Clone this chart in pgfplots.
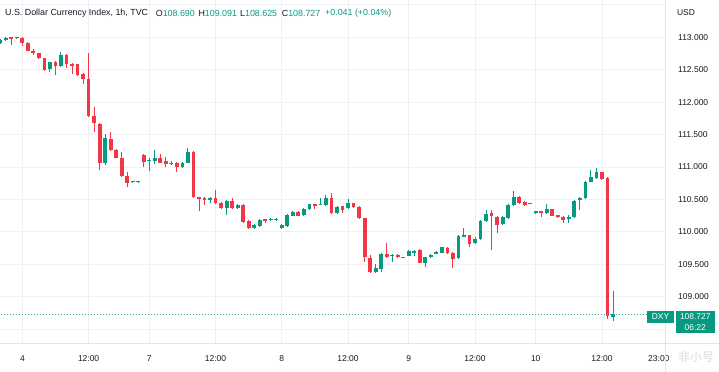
\documentclass[border=0pt]{standalone}
\usepackage{pgfplots}
\pgfplotsset{compat=1.18}
\usepackage{pgfplotstable}
\usepackage{fontspec}
\setmainfont{Liberation Sans}
\newfontfamily\cjk{Noto Sans CJK SC}
\definecolor{up}{HTML}{089981}
\definecolor{dn}{HTML}{F23645}
\definecolor{gridc}{HTML}{EEF1F6}
\definecolor{txt}{HTML}{131722}
\definecolor{axl}{HTML}{E0E3EB}

\pgfplotstableread{
x o h l c
0 112.917 112.974 112.897 112.958
1 112.958 112.997 112.943 112.984
3 112.984 113.000 112.978 112.994
9 112.506 112.619 112.469 112.614
11 112.557 112.778 112.542 112.727
19 111.066 111.509 111.031 111.442
24 110.761 110.784 110.753 110.776
25 110.764 110.784 110.753 110.776
27 111.088 111.134 110.943 111.103
28 111.097 111.262 111.046 111.134
33 111.005 111.077 110.992 111.066
34 111.066 111.288 111.054 111.236
38 110.491 110.542 110.440 110.517
41 110.363 110.491 110.260 110.476
43 110.363 110.429 110.352 110.414
46 110.064 110.121 110.051 110.105
47 110.090 110.198 110.075 110.183
49 110.178 110.214 110.167 110.198
50 110.183 110.206 110.167 110.193
51 110.055 110.121 110.044 110.105
52 110.090 110.275 110.075 110.260
53 110.244 110.321 110.237 110.311
55 110.260 110.360 110.252 110.348
56 110.348 110.437 110.337 110.425
58 110.417 110.517 110.414 110.429
59 110.414 110.568 110.406 110.517
61 110.286 110.398 110.275 110.388
63 110.363 110.502 110.352 110.440
68 109.385 109.504 109.373 109.438
69 109.422 109.674 109.381 109.658
71 109.627 109.651 109.540 109.643
74 109.627 109.720 109.620 109.709
75 109.678 109.720 109.627 109.709
77 109.515 109.617 109.453 109.607
78 109.607 109.651 109.597 109.643
79 109.658 109.705 109.651 109.694
80 109.678 109.774 109.669 109.762
83 109.592 109.951 109.581 109.936
84 109.925 110.055 109.913 109.951
86 109.833 109.920 109.820 109.890
87 109.885 110.183 109.874 110.172
88 110.172 110.337 110.159 110.275
91 110.121 110.237 110.105 110.224
92 110.209 110.429 110.198 110.414
93 110.414 110.634 110.398 110.533
96 110.434 110.452 110.429 110.445
97 110.286 110.329 110.275 110.321
99 110.286 110.425 110.275 110.348
103 110.193 110.267 110.132 110.224
104 110.224 110.491 110.213 110.480
105 110.491 110.545 110.337 110.517
106 110.517 110.784 110.506 110.773
107 110.773 110.954 110.761 110.850
108 110.826 110.980 110.815 110.918
111 108.690 109.091 108.625 108.727
}\upT

\pgfplotstableread{
x o h l c
2 112.994 113.004 112.881 112.981
4 112.984 112.997 112.866 112.917
5 112.917 112.927 112.789 112.793
6 112.793 112.815 112.727 112.753
7 112.753 112.758 112.665 112.676
8 112.676 112.681 112.480 112.496
10 112.614 112.627 112.419 112.557
12 112.727 112.735 112.522 112.584
13 112.588 112.596 112.434 112.557
14 112.584 112.588 112.403 112.419
15 112.429 112.442 112.280 112.352
16 112.352 112.762 111.771 111.786
17 111.786 111.930 111.544 111.674
18 111.658 111.671 110.954 111.066
20 111.432 111.540 111.247 111.262
21 111.262 111.277 111.131 111.143
22 111.143 111.236 110.853 110.866
23 110.866 110.927 110.696 110.758
26 111.185 111.193 111.005 111.082
29 111.134 111.200 111.054 111.066
30 111.092 111.159 111.005 111.041
31 111.066 111.097 111.031 111.046
32 111.066 111.077 110.927 111.005
35 111.236 111.254 110.522 110.533
36 110.533 110.542 110.326 110.502
37 110.517 110.530 110.414 110.491
39 110.517 110.645 110.437 110.449
40 110.449 110.460 110.352 110.363
42 110.476 110.517 110.352 110.363
44 110.414 110.422 110.144 110.156
45 110.172 110.190 110.051 110.064
48 110.193 110.203 110.132 110.172
54 110.311 110.321 110.237 110.244
57 110.429 110.437 110.348 110.398
60 110.517 110.594 110.275 110.286
62 110.398 110.406 110.286 110.337
64 110.440 110.452 110.368 110.378
65 110.378 110.391 110.198 110.209
66 110.209 110.221 109.540 109.607
67 109.592 109.643 109.373 109.385
70 109.658 109.823 109.597 109.607
72 109.643 109.651 109.597 109.607
73 109.607 109.612 109.589 109.597
76 109.720 109.728 109.515 109.524
81 109.755 109.766 109.658 109.669
82 109.678 109.689 109.438 109.577
85 109.951 109.959 109.766 109.813
89 110.286 110.337 109.720 110.244
90 110.233 110.244 109.987 110.105
94 110.542 110.553 110.437 110.449
95 110.465 110.476 110.406 110.414
98 110.321 110.329 110.224 110.286
100 110.348 110.357 110.240 110.249
101 110.260 110.267 110.213 110.224
102 110.233 110.244 110.141 110.183
109 110.918 110.930 110.799 110.815
110 110.826 110.838 108.660 108.695
}\dnT

\begin{document}
\begin{tikzpicture}[font=\fontsize{8.5}{10}\selectfont]
\useasboundingbox (0,-29bp) rectangle (719bp,343bp);
\begin{axis}[
  at={(0,0)}, anchor=south west,
  scale only axis, width=665bp, height=343bp,
  xmin=-0.05, xmax=120.42, ymin=108.286, ymax=113.575,
  axis line style={draw=none},
  major tick length=0, tick style={draw=none},
  xtick={4,16,27,39,51,63,74,86,97,109},
  xticklabels={4,12:00,7,12:00,8,12:00,9,12:00,10,12:00},
  extra x ticks={119.3}, extra x tick labels={23:00},
  extra x tick style={grid=none},
  ytick={109,109.5,...,113},
  extra y ticks={108.5,113.5}, extra y tick labels={},
  xmajorgrids, ymajorgrids,
  grid style={draw=gridc, line width=0.8bp},
  yticklabel pos=right,
  /pgf/number format/assume math mode=true,
  yticklabel style={/pgf/number format/.cd, fixed, fixed zerofill, precision=3, 1000 sep={}, /tikz/.cd, anchor=west, inner sep=0pt, xshift=13bp, text=txt},
  xticklabel style={anchor=base, inner sep=0pt, yshift=-18bp, text=txt},
  clip=true,
]
% wicks
\addplot[forget plot, mark=none, draw=none, error bars/.cd, y dir=plus, y explicit, error mark=none,
  error bar style={draw=up, line width=1bp}]
  table[x=x, y=l, y error expr=\thisrow{h}-\thisrow{l}] {\upT};
\addplot[forget plot, mark=none, draw=none, error bars/.cd, y dir=plus, y explicit, error mark=none,
  error bar style={draw=dn, line width=1bp}]
  table[x=x, y=l, y error expr=\thisrow{h}-\thisrow{l}] {\dnT};
% bodies
\addplot[forget plot, mark=none, draw=none, error bars/.cd, y dir=plus, y explicit, error mark=none,
  error bar style={draw=up, line width=3.8bp}]
  table[x=x, y=o, y error expr={max(\thisrow{c}-\thisrow{o},0.016)}] {\upT};
\addplot[forget plot, mark=none, draw=none, error bars/.cd, y dir=plus, y explicit, error mark=none,
  error bar style={draw=dn, line width=3.8bp}]
  table[x=x, y=c, y error expr={max(\thisrow{o}-\thisrow{c},0.016)}] {\dnT};
% last price line
\addplot[forget plot, mark=none, draw=up!80, line width=0.7bp, dash pattern=on 1bp off 2bp]
  coordinates {(-1,108.727) (125,108.727)};
\end{axis}
% axis borders
\draw[axl, line width=0.8bp] (665bp,-29bp) -- (665bp,343bp);
\draw[axl, line width=0.8bp] (0,0) -- (719bp,0);
% legend
\begin{scope}[font=\fontsize{8.9}{10}\selectfont]
\node[anchor=west, inner sep=0, text=txt] at (5bp,330bp) {U.S. Dollar Currency Index, 1h, TVC};
\node[anchor=west, inner sep=0, text=txt] at (155.7bp,330bp) {O\textcolor{up}{108.690}};
\node[anchor=west, inner sep=0, text=txt] at (198.3bp,330bp) {H\textcolor{up}{109.091}};
\node[anchor=west, inner sep=0, text=txt] at (240bp,330bp) {L\textcolor{up}{108.625}};
\node[anchor=west, inner sep=0, text=txt] at (281.7bp,330bp) {C\textcolor{up}{108.727}};
\node[anchor=west, inner sep=0, text=up] at (325bp,330bp) {+0.041 (+0.04\%)};
\end{scope}
\node[inner sep=0, text=txt] at (686bp,330bp) {USD};
% price tags
\fill[up] (647bp,20.3bp) rectangle (674bp,32.3bp);
\node[text=white, inner sep=0] at (660.5bp,26.3bp) {DXY};
\fill[up] (675.7bp,9.7bp) rectangle (715bp,32.3bp);
\node[text=white, inner sep=0] at (695.3bp,26.5bp) {108.727};
\node[text=white, inner sep=0] at (695.3bp,15.5bp) {06:22};
% watermark
\node[text=black!15, inner sep=0, font=\cjk\fontsize{12}{12}\selectfont] at (696bp,-14bp) {非小号};
\end{tikzpicture}
\end{document}
